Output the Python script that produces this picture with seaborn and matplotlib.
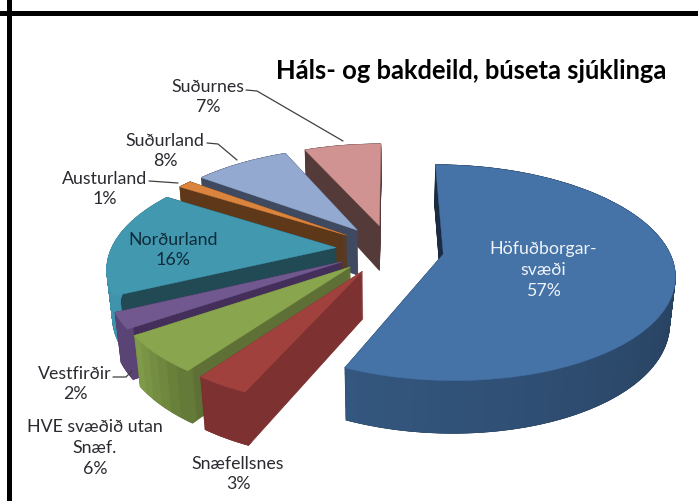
import numpy as np
import matplotlib
matplotlib.use("Agg")
import matplotlib.pyplot as plt
import seaborn as sns
from matplotlib.transforms import Transform

# Gögn
svaedi = ["Höfuðborgar-\nsvæði", "Snæfellsnes", "HVE svæðið utan\nSnæf.", "Vestfirðir",
          "Norðurland", "Austurland", "Suðurland", "Suðurnes"]
hlutfall = [56.6, 3.2, 5.6, 2.4, 16.2, 1.2, 8.2, 6.6]
titill = "Háls- og bakdeild, búseta sjúklinga"

# Litir: toppur, innri veggur, ytri veggur (vinstri -> hægri)
topp_litir = ["#4572A7", "#A0413E", "#89A54E", "#71588F", "#4198AF", "#DB843D", "#93A9CF", "#D19392"]
innri_litir = ["#1B2C42", "#7D3130", "#5F7036", "#432F5A", "#214A55", "#5E3818", "#3F4A60", "#553A3A"]
ytri_a = ["#34577F", "#7D3130", "#7F9A48", "#5A4475", "#3F93AC", "#5E3818", "#3F4A60", "#553A3A"]
ytri_b = ["#1B2B40", "#7D3130", "#647A38", "#5A4475", "#3F93AC", "#5E3818", "#3F4A60", "#553A3A"]

# Staðsetning texta: x, y, litur
merki_stadir = [(543, 270, "#EEF2F8"), (238, 474, "#2A2A30"), (95, 448, "#2A2A30"), (75, 384, "#2A2A30"),
                (173, 250, "#0F2A3A"), (105, 189, "#2A2A30"), (165, 151, "#2A2A30"), (208, 97, "#2A2A30")]
leidarar = [([246, 257, 343], [91, 92, 142]), ([207, 218, 237], [144, 145, 161]),
            ([149, 178], [182, 184]), ([113, 126, 132], [378, 378, 372])]

sns.set_theme(style="white")
plt.rcParams["font.family"] = ["Lato", "DejaVu Sans"]

CX, CY, RX, RY, DYPT = 390, 250, 225, 103, 47
P, Q = 0.17, 0.02
LOG = 48


class Halli(Transform):
    """Varpar flatri köku yfir í pixla með smá fjarvídd."""
    input_dims = 2
    output_dims = 2

    def __init__(self, z=0.0):
        super().__init__()
        self.z = z

    def transform_non_affine(self, values):
        v = np.asarray(values, dtype=float)
        s = 1 / (1 + P * v[:, 1] + Q * self.z)
        return np.column_stack([CX + v[:, 0] * RX * s,
                                CY - v[:, 1] * RY * s + self.z * DYPT * s])


fig = plt.figure(figsize=(6.98, 5.02), dpi=100)
ax = fig.add_axes([0, 0, 1, 1])

pie_args = dict(startangle=90, counterclock=False, labeldistance=None)
toppar, _ = ax.pie(hlutfall, explode=[0.24] * len(hlutfall), colors=sns.color_palette(topp_litir), **pie_args)

# raðað aftan frá og fram
rod = [7, 6, 5, 4, 3, 2, 1, 0]
for stig, i in enumerate(rod):
    w = toppar[i]
    w.set_transform(Halli(0) + ax.transData)
    w.set_zorder(stig * 10 + 3)
    w.set_edgecolor(topp_litir[i])
    w.set_linewidth(0.3)
    breidd = w.theta2 - w.theta1
    n = max(3, int(breidd / 3))
    rim_litir = sns.blend_palette([ytri_a[i], ytri_b[i]], n)
    for z in np.linspace(1, 0, LOG):
        # innri veggur
        botn, _ = ax.pie([breidd / 360], normalize=False, startangle=w.theta1, center=w.center,
                         colors=[innri_litir[i]], labeldistance=None,
                         wedgeprops=dict(linewidth=0.5, edgecolor=innri_litir[i]))
        # ytri veggur
        rim, _ = ax.pie(np.full(n, breidd / 360 / n), normalize=False, startangle=w.theta1, center=w.center,
                        colors=rim_litir, labeldistance=None, wedgeprops=dict(width=0.025, linewidth=0.4))
        for b in botn:
            b.set_transform(Halli(z) + ax.transData)
            b.set_zorder(stig * 10 + 1)
        for r, lit in zip(rim, rim_litir):
            r.set_transform(Halli(z) + ax.transData)
            r.set_edgecolor(lit)
            r.set_zorder(stig * 10 + 2)

# rammi
ax.axvline(8.5, color="black", lw=3.6, zorder=200)
ax.axhline(13.5, color="black", lw=3.6, zorder=200)

for x, y in leidarar:
    ax.plot(x, y, color="#404040", lw=0.9, zorder=150)

for nafn, gildi, (x, y, lit) in zip(svaedi, hlutfall, merki_stadir):
    ax.text(x, y, f"{nafn}\n{gildi:.0f}%", ha="center", va="center", fontsize=12.8, color=lit,
            linespacing=1.38, zorder=160)

ax.text(471, 71, titill, ha="center", va="center", fontsize=18.4, fontweight="bold", color="black", zorder=160)

ax.set_aspect("auto")
ax.set_xlim(0, 698)
ax.set_ylim(502, 0)
ax.axis("off")

fig.savefig("out.png", dpi=100)
